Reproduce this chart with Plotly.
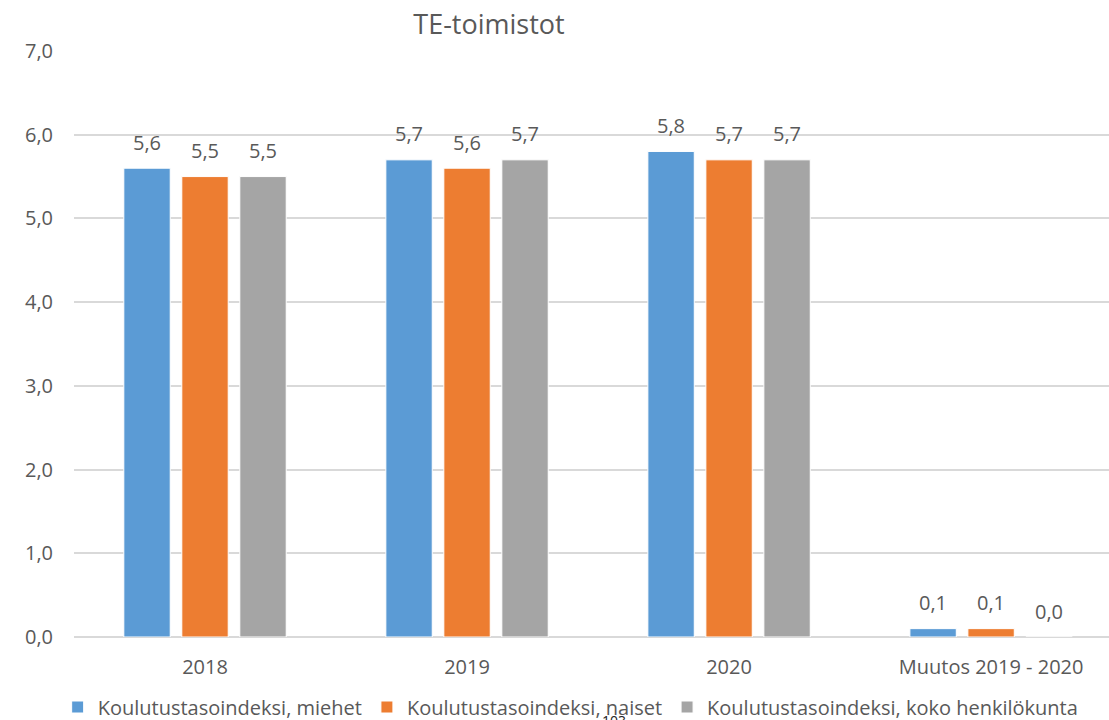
import plotly.graph_objects as go

# Chart data
categories = ["2018", "2019", "2020", "Muutos 2019 - 2020"]
series_names = [
    "Koulutustasoindeksi, miehet",
    "Koulutustasoindeksi, naiset",
    "Koulutustasoindeksi, koko henkilökunta",
]
miehet = [5.6, 5.7, 5.8, 0.1]
naiset = [5.5, 5.6, 5.7, 0.1]
koko = [5.5, 5.7, 5.7, 0.0]
y_ticks = [0, 1, 2, 3, 4, 5, 6, 7]

colors = ["#5B9BD5", "#ED7D31", "#A5A5A5"]
text_color = "#595959"
font_family = "Open Sans, Noto Sans, sans-serif"

fig = go.Figure()
all_series = [miehet, naiset, koko]
for name, vals, col in zip(series_names, all_series, colors):
    fig.add_trace(go.Bar(
        x=categories, y=vals, name=name,
        marker=dict(color=col, line=dict(color="white", width=1)),
    ))

# Value labels above each bar, offset to the bar's slot within its group
slot_px = 58
for i, vals in enumerate(all_series):
    for ci, v in enumerate(vals):
        fig.add_annotation(
            x=ci, y=v, xref="x", yref="y",
            text=f"{v:.1f}".replace(".", ","),
            showarrow=False, xshift=(i - 1) * slot_px, yshift=26,
            yanchor="middle",
            font=dict(size=20, color=text_color, family=font_family),
        )

# Page number printed underneath the legend
fig.add_annotation(
    xref="paper", yref="paper", x=(614 - 74) / 1035, y=-(709 - 637) / 586,
    text="103", showarrow=False, xanchor="center", yanchor="top",
    font=dict(size=14, color="#222222", family=font_family),
)

fig.update_layout(
    width=1109, height=720,
    margin=dict(l=74, r=0, t=51, b=83),
    paper_bgcolor="white", plot_bgcolor="white",
    barmode="group", bargap=0.336, bargroupgap=0.2,
    title=dict(
        text="TE-toimistot", x=489 / 1109, xanchor="center",
        y=1 - 25 / 720, yanchor="middle",
        font=dict(size=27, color=text_color, family=font_family),
    ),
    showlegend=True,
    legend=dict(
        orientation="h", xref="container", yref="container",
        x=0.052, xanchor="left", y=13 / 720, yanchor="middle",
        font=dict(size=20, color=text_color, family=font_family),
        itemwidth=30, tracegroupgap=0, traceorder="normal",
    ),
    font=dict(family=font_family, color=text_color),
)

fig.update_xaxes(
    type="category", range=[-0.5, 3.45],
    showgrid=False, showline=False, zeroline=False,
    ticks="", ticklabelstandoff=16,
    tickfont=dict(size=20, color=text_color, family=font_family),
)
fig.update_yaxes(
    range=[0, 7], tickvals=y_ticks,
    ticktext=[f"{t:.1f}".replace(".", ",") for t in y_ticks],
    showgrid=True, gridcolor="#D9D9D9", gridwidth=1.5,
    zeroline=True, zerolinecolor="#D9D9D9", zerolinewidth=1.5,
    showline=False, ticks="", ticklabelstandoff=20,
    tickfont=dict(size=20, color=text_color, family=font_family),
)

fig.write_html("out.html")
